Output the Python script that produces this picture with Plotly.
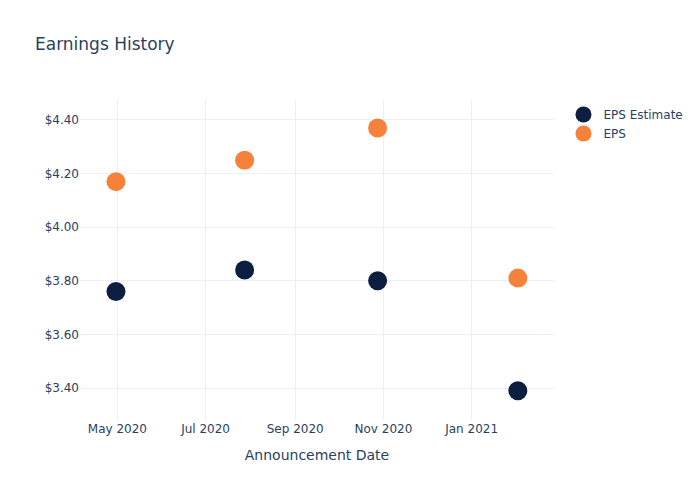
import plotly.graph_objects as go

dates = ["2020-04-30", "2020-07-28", "2020-10-28", "2021-02-02"]
eps_estimate = [3.76, 3.84, 3.80, 3.39]
eps_actual = [4.17, 4.25, 4.37, 3.81]

fig = go.Figure()
fig.add_trace(go.Scatter(x=dates, y=eps_estimate, mode="markers", name="EPS Estimate",
                         marker=dict(color="#0c1f41", size=19)))
fig.add_trace(go.Scatter(x=dates, y=eps_actual, mode="markers", name="EPS",
                         marker=dict(color="#f5813a", size=19)))
fig.update_layout(
    template="plotly_white",
    width=700, height=500,
    font=dict(family="DejaVu Sans"),
    title=dict(text="Earnings History"),
    xaxis=dict(title=dict(text="Announcement Date"), range=["2020-04-05 03:00", "2021-02-27"]),
    yaxis=dict(tickprefix="$", tickformat=".2f", range=[3.2806, 4.4746]),
)
fig.write_html("out.html")
